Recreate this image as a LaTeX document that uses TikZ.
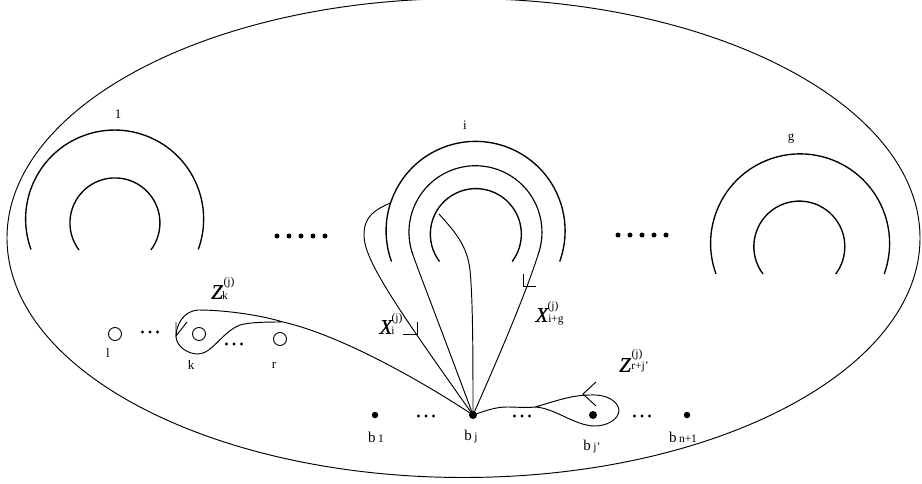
\documentclass[tikz,border=0pt]{standalone}
\usepackage{fontspec}
\setmainfont{Liberation Serif}
\tikzset{
  curve/.style={line width=0.95pt,black},
  arcline/.style={line width=1.35pt,black},
  lbl/.style={inner sep=0pt,font=\fontsize{13}{14}\selectfont},
  sublbl/.style={inner sep=0pt,font=\fontsize{11.5}{12}\selectfont},
  sym/.style={inner sep=0pt,font=\fontsize{21}{22}\selectfont\itshape\addfontfeatures{FakeBold=0.4}},
  hole/.style={circle,draw,line width=0.9pt,minimum size=13pt,inner sep=0pt},
  pt/.style={circle,fill=black,minimum size=6.5pt,inner sep=0pt},
  bigdot/.style={circle,fill=black,minimum size=5pt,inner sep=0pt},
  smalldot/.style={circle,fill=black,minimum size=3.4pt,inner sep=0pt},
  blbl/.style={inner sep=0pt,font=\fontsize{15}{15}\selectfont}
}
\newcommand{\fivedots}[2]{\foreach \q in {0,...,4}{\node[bigdot] at (#1+\q*12,#2) {};}}
\newcommand{\threedots}[2]{\foreach \q in {-1,0,1}{\node[smalldot] at (#1+\q*7.5,#2) {};}}
\begin{document}
\begin{tikzpicture}[x=1pt,y=-1pt]
\useasboundingbox (0,0) rectangle (922,484);
\begin{scope}
\clip (0,0) rectangle (922,484);
\draw[curve] (463.5,238) ellipse [x radius=456.5,y radius=239.5];
\end{scope}
% handle 1
\draw[arcline] (31,249.5) arc[start angle=160,end angle=380,radius=89];
\draw[arcline] (79,250) arc[start angle=143,end angle=397,radius=45];
% handle i
\draw[arcline] (391.5,261.5) arc[start angle=160,end angle=380,radius=89.5];
\draw[arcline] (439.5,261.5) arc[start angle=143,end angle=397,radius=45.5];
% handle g
\draw[arcline] (716,274) arc[start angle=160,end angle=380,radius=89.5];
\draw[arcline] (763,274) arc[start angle=143,end angle=397,radius=45.5];
% points
\node[pt] (b1) at (375,415) {};
\node[pt,minimum size=8pt] (bj) at (473,415) {};
\node[pt,minimum size=8pt] (bjp) at (593,415) {};
\node[pt] (bn) at (687,415) {};
\node[hole] (h1) at (115,334) {};
\node[hole] (hk) at (199,334) {};
\node[hole] (hr) at (280,339) {};
\coordinate (jz) at (283,322);
\coordinate (jr) at (535,407);
\coordinate (m1) at (413,255);
\coordinate (m2) at (538,255);
\coordinate (a1) at (390,203);
\coordinate (c1) at (439,214);
% middle loop of handle i
\draw[curve,line width=1.15pt] (m1) arc[start angle=160,end angle=380,radius=66.5];
\draw[curve] (m1) .. controls (420,275) and (437,318) .. (bj.center);
\draw[curve] (m2) .. controls (530,280) and (513,325) .. (bj.center);
% x_i loop
\draw[curve] (a1) .. controls (375,210) and (364,216) .. (364,235) .. controls (364,260) and (395,305) .. (bj.center);
% x_{i+g} inner line
\draw[curve] (c1) .. controls (455,232) and (467,245) .. (470,270) .. controls (473,300) and (473,360) .. (bj.center);
% z_k loop
\draw[curve] (bj.center) .. controls (420,380) and (340,335) .. (jz) .. controls (260,315) and (225,310) .. (198,310) .. controls (184,311) and (176,324) .. (176,337) .. controls (177,347) and (188,354) .. (198,354) .. controls (212,354) and (222,332) .. (240,325) .. controls (250,322) and (270,322) .. (jz);
% z_{r+j'} loop
\draw[curve] (bj.center) .. controls (485,411) and (495,407) .. (507,407) .. controls (516,407) and (527,408) .. (jr) .. controls (550,403) and (570,395) .. (590,395) .. controls (608,394) and (618,402) .. (619,410) .. controls (619,420) and (606,426) .. (595,426) .. controls (575,426) and (555,408) .. (jr);
% arrowheads
\draw[curve] (176,322) -- (176,336) -- (187,322);
\draw[curve] (596,382) -- (583,394) -- (596,406);
\draw[curve] (523,274) -- (523,286) -- (536,286);
\draw[curve] (403,334) -- (417,334) -- (417,322);
% dots
\fivedots{277}{236}
\fivedots{618}{235}
\threedots{150}{332}
\threedots{234}{344}
\threedots{426}{416}
\threedots{522}{416}
\threedots{642}{416}
% labels
\node[lbl] (t1) at (118,114) {1};
\node[lbl] (ti) at (465,125) {i};
\node[lbl] (tg) at (791,139) {g};
\node[lbl] (l1) at (108,353) {l};
\node[lbl] (lk) at (191,365) {k};
\node[lbl] (lr) at (274,365) {r};
\node[blbl] (lb1) at (376,437) {b\,\fontsize{11.5}{12}\selectfont 1};
\node[blbl] (lbj) at (471,437) {b\,\fontsize{11.5}{12}\selectfont j};
\node[blbl] (lbjp) at (592,447) {b\,\fontsize{11.5}{12}\selectfont j'};
\node[blbl] (lbn) at (683,437) {b\,\fontsize{11.5}{12}\selectfont n+1};
\node[sym] (zk) at (217,292) {Z};
\node[sublbl] at (229,283) {(j)};
\node[sublbl] at (225,296) {k};
\node[sym] (xi) at (386,327) {X};
\node[sublbl] at (397,319) {(j)};
\node[sublbl] at (393,331) {i};
\node[sym] (xg) at (542,315) {X};
\node[sublbl] at (553,307) {(j)};
\node[sublbl] at (556,320) {i+g};
\node[sym] (zr) at (625,365) {Z};
\node[sublbl] at (637,355) {(j)};
\node[sublbl] at (640,367) {r+j'};
\end{tikzpicture}
\end{document}
